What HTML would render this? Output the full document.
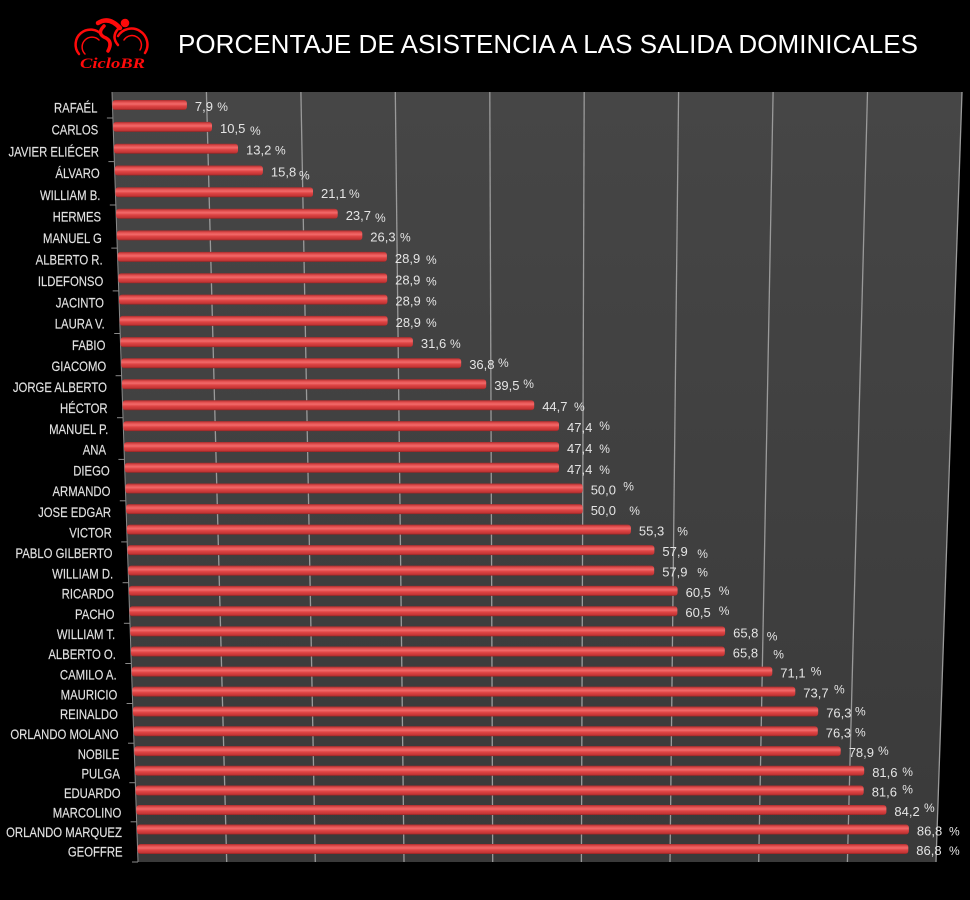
<!DOCTYPE html>
<html><head><meta charset="utf-8"><style>
html,body{margin:0;padding:0;background:#000;}
svg{display:block;}
.l{font-family:"Liberation Sans",Arial,sans-serif;font-size:13.5px;fill:#e2e2e2;text-anchor:end;stroke:#e2e2e2;stroke-width:0.15px;}
.v{font-family:"Liberation Sans",Arial,sans-serif;font-size:13px;fill:#e4e4e4;}
.p{font-family:"Liberation Sans",Arial,sans-serif;font-size:12px;fill:#e4e4e4;}
</style></head><body>
<svg width="970" height="900" viewBox="0 0 970 900" xmlns="http://www.w3.org/2000/svg">
<defs>
<linearGradient id="bg" x1="0" y1="0" x2="0" y2="1">
<stop offset="0" stop-color="#464646"/><stop offset="1" stop-color="#3a3a3a"/>
</linearGradient>
<linearGradient id="bar" x1="0" y1="0" x2="0" y2="1">
<stop offset="0" stop-color="#a82c2c"/><stop offset="0.2" stop-color="#e24e4e"/>
<stop offset="0.4" stop-color="#f26a6a"/><stop offset="0.6" stop-color="#de4444"/>
<stop offset="0.88" stop-color="#c23434"/><stop offset="1" stop-color="#8a2424"/>
</linearGradient>
</defs>
<rect width="970" height="900" fill="#000"/>

<!-- logo -->
<g fill="none" stroke="#ff0a0a" stroke-linecap="round">
<path d="M79,54 A14,14 0 0 1 102,35" stroke-width="2.5"/>
<path d="M85,54 A9,9 0 0 1 99,40" stroke-width="1.5"/>
<path d="M118,36 A14,14 0 0 1 145,53" stroke-width="2.5"/>
<path d="M124,40 A9,9 0 0 1 140,50" stroke-width="1.5"/>
<path d="M98,23 Q109,16 120,28" stroke-width="4.5"/>
<path d="M104,26 Q96,34 106,38 Q113,42 108,51" stroke-width="3.5"/>
<path d="M118,29 Q111,37 118,45" stroke-width="2.5"/>
</g>
<circle cx="125" cy="23" r="4.3" fill="#ff0a0a"/>
<text x="80" y="68" font-family="'Liberation Serif',serif" font-weight="bold" font-style="italic" font-size="15" fill="#ff0a0a" textLength="65" lengthAdjust="spacingAndGlyphs">CicloBR</text>

<!-- title -->
<text x="178" y="53" font-family="'Liberation Sans',Arial,sans-serif" font-size="26" fill="#ffffff" textLength="740" lengthAdjust="spacing">PORCENTAJE DE ASISTENCIA A LAS SALIDA DOMINICALES</text>

<!-- plot area -->
<polygon points="112,92 962,92 936,862 138,862" fill="url(#bg)"/>
<g stroke="#9a9a9a" stroke-width="1.3">
<line x1="206.4" y1="92" x2="226.7" y2="862"/>
<line x1="300.9" y1="92" x2="315.3" y2="862"/>
<line x1="395.3" y1="92" x2="404.0" y2="862"/>
<line x1="489.8" y1="92" x2="492.7" y2="862"/>
<line x1="584.2" y1="92" x2="581.4" y2="862"/>
<line x1="678.6" y1="92" x2="670.0" y2="862"/>
<line x1="773.1" y1="92" x2="758.7" y2="862"/>
<line x1="867.5" y1="92" x2="847.4" y2="862"/>
<line x1="962" y1="92" x2="936" y2="862"/>
</g>
<g stroke="#8a8a8a" stroke-width="1">
<line x1="112" y1="92" x2="138" y2="862"/>
<line x1="106.9" y1="118" x2="112.9" y2="118"/>
<line x1="108.4" y1="161.6" x2="114.4" y2="161.6"/>
<line x1="109.8" y1="205" x2="115.8" y2="205"/>
<line x1="111.3" y1="248.1" x2="117.3" y2="248.1"/>
<line x1="112.7" y1="290.9" x2="118.7" y2="290.9"/>
<line x1="114.2" y1="333.5" x2="120.2" y2="333.5"/>
<line x1="115.6" y1="375.7" x2="121.6" y2="375.7"/>
<line x1="117.0" y1="417.7" x2="123.0" y2="417.7"/>
<line x1="118.4" y1="459.4" x2="124.4" y2="459.4"/>
<line x1="119.8" y1="500.8" x2="125.8" y2="500.8"/>
<line x1="121.2" y1="541.9" x2="127.2" y2="541.9"/>
<line x1="122.6" y1="582.7" x2="128.6" y2="582.7"/>
<line x1="123.9" y1="623.3" x2="129.9" y2="623.3"/>
<line x1="125.3" y1="663.5" x2="131.3" y2="663.5"/>
<line x1="126.6" y1="703.5" x2="132.6" y2="703.5"/>
<line x1="128.0" y1="743.2" x2="134.0" y2="743.2"/>
<line x1="129.3" y1="782.7" x2="135.3" y2="782.7"/>
<line x1="130.6" y1="821.8" x2="136.6" y2="821.8"/>
<line x1="132.0" y1="862" x2="138.0" y2="862"/>
</g>

<!-- bars -->
<g fill="url(#bar)">
<rect x="112.4" y="100" width="74.5" height="10" rx="3"/>
<rect x="113.2" y="121.9" width="98.8" height="10" rx="3"/>
<rect x="113.9" y="143.7" width="124.1" height="10" rx="3"/>
<rect x="114.7" y="165.5" width="148.2" height="10" rx="3"/>
<rect x="115.4" y="187.2" width="197.6" height="10" rx="3"/>
<rect x="116.1" y="208.8" width="221.6" height="10" rx="3"/>
<rect x="116.8" y="230.4" width="245.5" height="10" rx="3"/>
<rect x="117.6" y="251.9" width="269.3" height="10" rx="3"/>
<rect x="118.3" y="273.3" width="268.8" height="10" rx="3"/>
<rect x="119.0" y="294.6" width="268.4" height="10" rx="3"/>
<rect x="119.7" y="315.9" width="267.9" height="10" rx="3"/>
<rect x="120.4" y="337.1" width="292.5" height="10" rx="3"/>
<rect x="121.2" y="358.2" width="340.0" height="10" rx="3"/>
<rect x="121.9" y="379.2" width="364.3" height="10" rx="3"/>
<rect x="122.6" y="400.2" width="411.6" height="10" rx="3"/>
<rect x="123.3" y="421.1" width="435.7" height="10" rx="3"/>
<rect x="124.0" y="442" width="435.0" height="10" rx="3"/>
<rect x="124.7" y="462.8" width="434.3" height="10" rx="3"/>
<rect x="125.4" y="483.5" width="457.3" height="10" rx="3"/>
<rect x="126.1" y="504.1" width="456.6" height="10" rx="3"/>
<rect x="126.8" y="524.6" width="504.1" height="10" rx="3"/>
<rect x="127.5" y="545.1" width="526.9" height="10" rx="3"/>
<rect x="128.2" y="565.6" width="526.0" height="10" rx="3"/>
<rect x="128.9" y="585.9" width="548.7" height="10" rx="3"/>
<rect x="129.5" y="606.2" width="547.9" height="10" rx="3"/>
<rect x="130.2" y="626.4" width="594.9" height="10" rx="3"/>
<rect x="130.9" y="646.5" width="593.9" height="10" rx="3"/>
<rect x="131.6" y="666.6" width="640.7" height="10" rx="3"/>
<rect x="132.3" y="686.6" width="663.0" height="10" rx="3"/>
<rect x="132.9" y="706.5" width="685.3" height="10" rx="3"/>
<rect x="133.6" y="726.3" width="684.2" height="10" rx="3"/>
<rect x="134.3" y="746.1" width="706.4" height="10" rx="3"/>
<rect x="134.9" y="765.8" width="729.3" height="10" rx="3"/>
<rect x="135.6" y="785.5" width="728.1" height="10" rx="3"/>
<rect x="136.3" y="805" width="750.1" height="10" rx="3"/>
<rect x="136.9" y="824.5" width="772.0" height="10" rx="3"/>
<rect x="137.6" y="844" width="770.7" height="10" rx="3"/>
</g>

<!-- category labels -->
<g class="l">
<text transform="translate(97.4,112.7) scale(0.84,1)">RAFAÉL</text>
<text transform="translate(98.2,134.6) scale(0.84,1)">CARLOS</text>
<text transform="translate(98.9,156.4) scale(0.84,1)">JAVIER ELIÉCER</text>
<text transform="translate(99.7,178.2) scale(0.84,1)">ÁLVARO</text>
<text transform="translate(100.4,199.9) scale(0.84,1)">WILLIAM B.</text>
<text transform="translate(101.1,221.5) scale(0.84,1)">HERMES</text>
<text transform="translate(101.8,243.1) scale(0.84,1)">MANUEL G</text>
<text transform="translate(102.6,264.6) scale(0.84,1)">ALBERTO R.</text>
<text transform="translate(103.3,286) scale(0.84,1)">ILDEFONSO</text>
<text transform="translate(104.0,307.3) scale(0.84,1)">JACINTO</text>
<text transform="translate(104.7,328.6) scale(0.84,1)">LAURA V.</text>
<text transform="translate(105.4,349.8) scale(0.84,1)">FABIO</text>
<text transform="translate(106.2,370.9) scale(0.84,1)">GIACOMO</text>
<text transform="translate(106.9,391.9) scale(0.84,1)">JORGE ALBERTO</text>
<text transform="translate(107.6,412.9) scale(0.84,1)">HÉCTOR</text>
<text transform="translate(108.3,433.8) scale(0.84,1)">MANUEL P.</text>
<text transform="translate(106.0,454.7) scale(0.84,1)">ANA</text>
<text transform="translate(109.7,475.5) scale(0.84,1)">DIEGO</text>
<text transform="translate(110.4,496.2) scale(0.84,1)">ARMANDO</text>
<text transform="translate(111.1,516.8) scale(0.84,1)">JOSE EDGAR</text>
<text transform="translate(111.8,537.3) scale(0.84,1)">VICTOR</text>
<text transform="translate(112.5,557.8) scale(0.84,1)">PABLO GILBERTO</text>
<text transform="translate(113.2,578.3) scale(0.84,1)">WILLIAM D.</text>
<text transform="translate(113.9,598.6) scale(0.84,1)">RICARDO</text>
<text transform="translate(114.5,618.9) scale(0.84,1)">PACHO</text>
<text transform="translate(115.2,639.1) scale(0.84,1)">WILLIAM T.</text>
<text transform="translate(115.9,659.2) scale(0.84,1)">ALBERTO O.</text>
<text transform="translate(116.6,679.3) scale(0.84,1)">CAMILO A.</text>
<text transform="translate(117.3,699.3) scale(0.84,1)">MAURICIO</text>
<text transform="translate(117.9,719.2) scale(0.84,1)">REINALDO</text>
<text transform="translate(118.6,739) scale(0.84,1)">ORLANDO MOLANO</text>
<text transform="translate(119.3,758.8) scale(0.84,1)">NOBILE</text>
<text transform="translate(119.9,778.5) scale(0.84,1)">PULGA</text>
<text transform="translate(120.6,798.2) scale(0.84,1)">EDUARDO</text>
<text transform="translate(121.3,817.7) scale(0.84,1)">MARCOLINO</text>
<text transform="translate(121.9,837.2) scale(0.84,1)">ORLANDO MARQUEZ</text>
<text transform="translate(122.6,856.7) scale(0.84,1)">GEOFFRE</text>
</g>

<!-- values -->
<g class="v">
<text x="194.9" y="111">7,9</text>
<text x="220" y="132.9">10,5</text>
<text x="246" y="154.7">13,2</text>
<text x="270.9" y="176.5">15,8</text>
<text x="321" y="198.2">21,1</text>
<text x="345.7" y="219.8">23,7</text>
<text x="370.3" y="241.4">26,3</text>
<text x="394.9" y="262.9">28,9</text>
<text x="395.1" y="284.3">28,9</text>
<text x="395.4" y="305.6">28,9</text>
<text x="395.6" y="326.9">28,9</text>
<text x="420.9" y="348.1">31,6</text>
<text x="469.2" y="369.2">36,8</text>
<text x="494.2" y="390.2">39,5</text>
<text x="542.2" y="411.2">44,7</text>
<text x="567" y="432.1">47,4</text>
<text x="567" y="453">47,4</text>
<text x="567" y="473.8">47,4</text>
<text x="590.7" y="494.5">50,0</text>
<text x="590.7" y="515.1">50,0</text>
<text x="638.9" y="535.6">55,3</text>
<text x="662.4" y="556.1">57,9</text>
<text x="662.2" y="576.6">57,9</text>
<text x="685.6" y="596.9">60,5</text>
<text x="685.4" y="617.2">60,5</text>
<text x="733.1" y="637.4">65,8</text>
<text x="732.8" y="657.5">65,8</text>
<text x="780.3" y="677.6">71,1</text>
<text x="803.3" y="697.6">73,7</text>
<text x="826.2" y="717.5">76,3</text>
<text x="825.8" y="737.3">76,3</text>
<text x="848.7" y="757.1">78,9</text>
<text x="872.2" y="776.8">81,6</text>
<text x="871.7" y="796.5">81,6</text>
<text x="894.4" y="816">84,2</text>
<text x="916.9" y="835.5">86,8</text>
<text x="916.3" y="855">86,8</text>
</g>
<g class="p">
<text x="217.3" y="111">%</text>
<text x="250" y="134.9">%</text>
<text x="275" y="154.7">%</text>
<text x="299" y="179.5">%</text>
<text x="349" y="198.2">%</text>
<text x="375" y="221.8">%</text>
<text x="400" y="241.4">%</text>
<text x="426" y="263.9">%</text>
<text x="426" y="285.3">%</text>
<text x="426" y="305.6">%</text>
<text x="426" y="326.9">%</text>
<text x="450" y="348.1">%</text>
<text x="498" y="367.2">%</text>
<text x="523.3" y="388.2">%</text>
<text x="574" y="411.2">%</text>
<text x="599.3" y="430.1">%</text>
<text x="599.3" y="453">%</text>
<text x="599.3" y="473.8">%</text>
<text x="623.3" y="490.5">%</text>
<text x="629.3" y="515.1">%</text>
<text x="677.3" y="535.6">%</text>
<text x="697.3" y="558.1">%</text>
<text x="697.3" y="576.6">%</text>
<text x="718.7" y="594.9">%</text>
<text x="718.7" y="615.2">%</text>
<text x="766.7" y="640.4">%</text>
<text x="773.3" y="658.5">%</text>
<text x="810.7" y="675.6">%</text>
<text x="834" y="693.6">%</text>
<text x="855" y="715.5">%</text>
<text x="855" y="736.3">%</text>
<text x="878" y="755.1">%</text>
<text x="902.3" y="775.8">%</text>
<text x="902.3" y="793.5">%</text>
<text x="924" y="812">%</text>
<text x="949" y="835.5">%</text>
<text x="949" y="855">%</text>
</g>
</svg>
</body></html>
